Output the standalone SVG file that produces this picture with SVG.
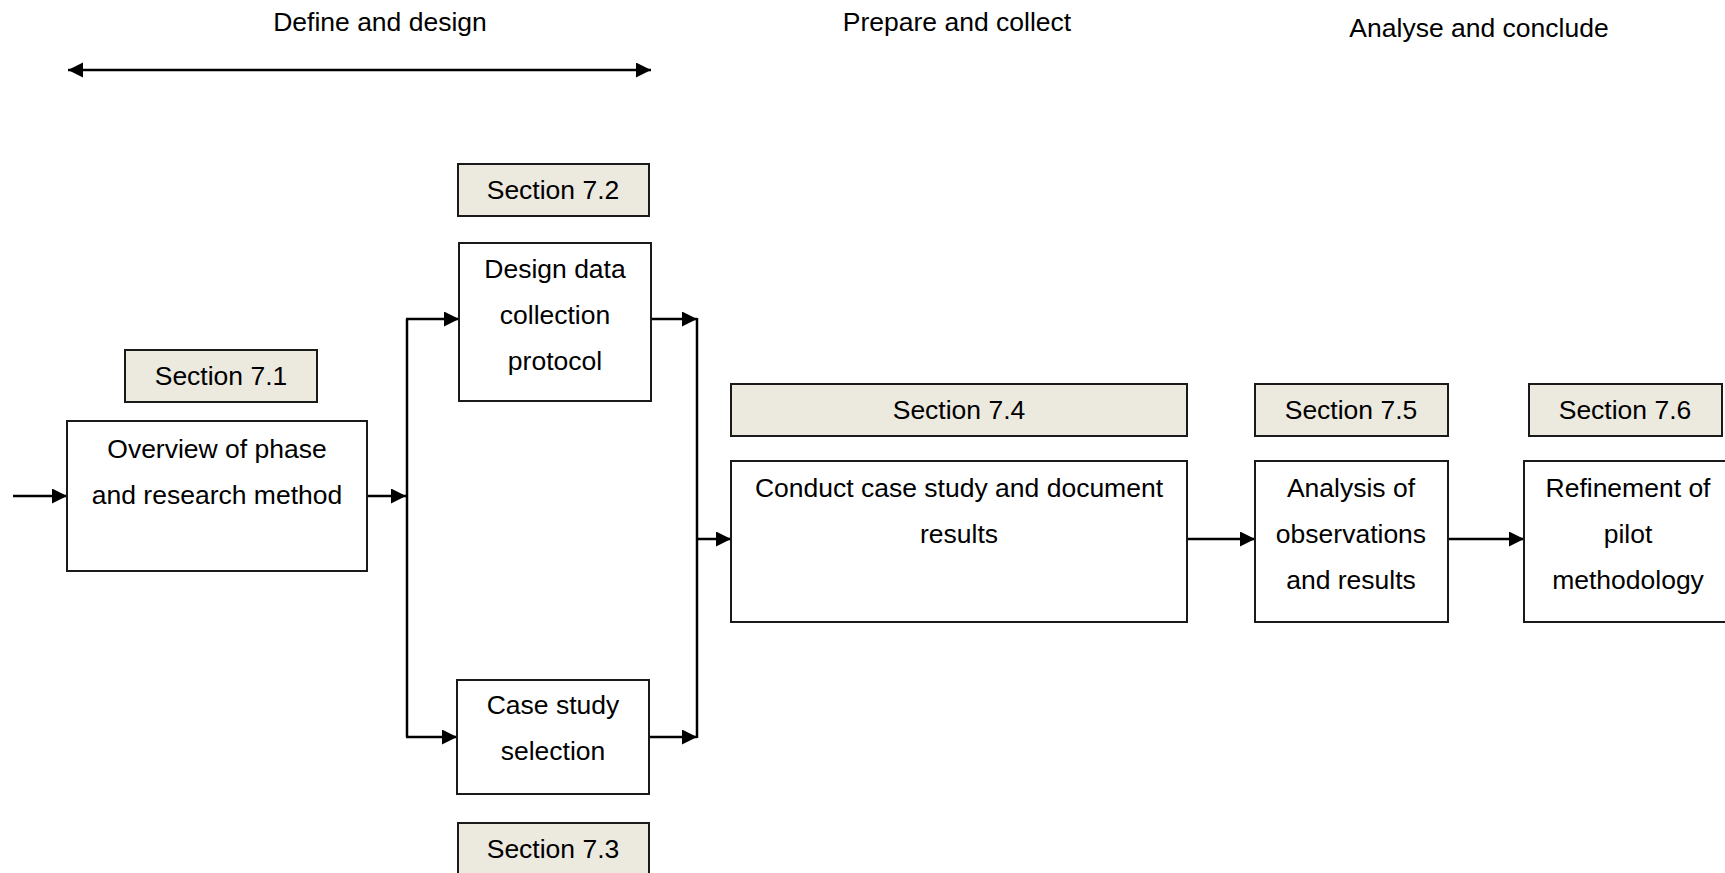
<svg xmlns="http://www.w3.org/2000/svg" width="1725" height="873" viewBox="0 0 1725 873">
  <style>
    text { font-family: "Liberation Sans", Arial, sans-serif; font-size: 26.5px; fill: #000; text-anchor: middle; }
    .box { fill: #fff; stroke: #1a1a1a; stroke-width: 2; }
    .sec { fill: #ECE9DF; stroke: #1a1a1a; stroke-width: 2; }
    .conn { fill: none; stroke: #000; stroke-width: 2.5; }
    .arr { marker-end: url(#head); }
  </style>
  <defs>
    <marker id="head" markerUnits="userSpaceOnUse" markerWidth="16" markerHeight="16" refX="15" refY="7.5" orient="auto-start-reverse">
      <path d="M0,0 L15,7.5 L0,15 Z" fill="#000"/>
    </marker>
  </defs>

  <rect width="1725" height="873" fill="#fff"/>

  <!-- phase headings -->
  <g id="phase-headings">
    <text x="380" y="31">Define and design</text>
    <text x="957" y="31">Prepare and collect</text>
    <text x="1479" y="37">Analyse and conclude</text>
  </g>

  <!-- connectors -->
  <g id="connectors">
    <line class="conn" x1="68" y1="70" x2="651" y2="70" marker-start="url(#head)" marker-end="url(#head)"/>
    <line class="conn arr" x1="13" y1="496" x2="67" y2="496"/>
    <line class="conn arr" x1="367" y1="496" x2="406" y2="496"/>
    <line class="conn" x1="407" y1="319" x2="407" y2="737"/>
    <line class="conn arr" x1="406" y1="319" x2="459" y2="319"/>
    <line class="conn arr" x1="406" y1="737" x2="457" y2="737"/>
    <line class="conn arr" x1="651" y1="319" x2="697" y2="319"/>
    <line class="conn arr" x1="649" y1="737" x2="697" y2="737"/>
    <line class="conn" x1="697" y1="318" x2="697" y2="738"/>
    <line class="conn arr" x1="697" y1="539" x2="731" y2="539"/>
    <line class="conn arr" x1="1187" y1="539" x2="1255" y2="539"/>
    <line class="conn arr" x1="1448" y1="539" x2="1524" y2="539"/>
  </g>

  <!-- 7.1 -->
  <g id="section-7-1">
    <rect class="sec" x="125" y="350" width="192" height="52"/>
    <text x="221" y="385">Section 7.1</text>
  </g>
  <g id="overview">
    <rect class="box" x="67" y="421" width="300" height="150"/>
    <text x="217" y="458">Overview of phase</text>
    <text x="217" y="504">and research method</text>
  </g>

  <!-- 7.2 -->
  <g id="section-7-2">
    <rect class="sec" x="458" y="164" width="191" height="52"/>
    <text x="553" y="199">Section 7.2</text>
  </g>
  <g id="design-protocol">
    <rect class="box" x="459" y="243" width="192" height="158"/>
    <text x="555" y="278">Design data</text>
    <text x="555" y="324">collection</text>
    <text x="555" y="370">protocol</text>
  </g>

  <!-- 7.3 -->
  <g id="case-selection">
    <rect class="box" x="457" y="680" width="192" height="114"/>
    <text x="553" y="714">Case study</text>
    <text x="553" y="760">selection</text>
  </g>
  <g id="section-7-3">
    <rect class="sec" x="458" y="823" width="191" height="54"/>
    <text x="553" y="858">Section 7.3</text>
  </g>

  <!-- 7.4 -->
  <g id="section-7-4">
    <rect class="sec" x="731" y="384" width="456" height="52"/>
    <text x="959" y="419">Section 7.4</text>
  </g>
  <g id="conduct">
    <rect class="box" x="731" y="461" width="456" height="161"/>
    <text x="959" y="497">Conduct case study and document</text>
    <text x="959" y="543">results</text>
  </g>

  <!-- 7.5 -->
  <g id="section-7-5">
    <rect class="sec" x="1255" y="384" width="193" height="52"/>
    <text x="1351" y="419">Section 7.5</text>
  </g>
  <g id="analysis">
    <rect class="box" x="1255" y="461" width="193" height="161"/>
    <text x="1351" y="497">Analysis of</text>
    <text x="1351" y="543">observations</text>
    <text x="1351" y="589">and results</text>
  </g>

  <!-- 7.6 -->
  <g id="section-7-6">
    <rect class="sec" x="1529" y="384" width="193" height="52"/>
    <text x="1625" y="419">Section 7.6</text>
  </g>
  <g id="refinement">
    <rect class="box" x="1524" y="461" width="210" height="161"/>
    <text x="1628" y="497">Refinement of</text>
    <text x="1628" y="543">pilot</text>
    <text x="1628" y="589">methodology</text>
  </g>
</svg>
